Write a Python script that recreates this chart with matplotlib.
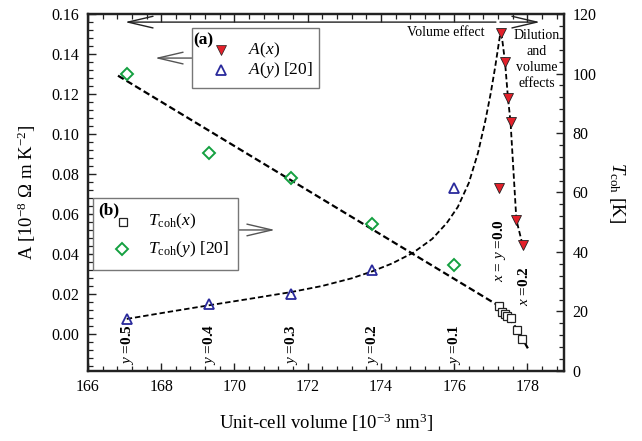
import matplotlib
matplotlib.use("Agg")
import matplotlib.pyplot as plt
from matplotlib.patches import Rectangle
from matplotlib.ticker import AutoMinorLocator, MultipleLocator, FormatStrFormatter
from matplotlib.transforms import blended_transform_factory

plt.rcParams["font.family"] = ["Liberation Serif", "DejaVu Serif"]
plt.rcParams["mathtext.fontset"] = "custom"
plt.rcParams["mathtext.rm"] = "Liberation Serif"
plt.rcParams["mathtext.it"] = "Liberation Serif:italic"
plt.rcParams["mathtext.bf"] = "Liberation Serif:bold"

# y-series (ref. [20])
vol_y = [167.06, 169.30, 171.54, 173.75, 175.99]
a_y = [0.0075, 0.015, 0.020, 0.032, 0.073]
tcoh_y = [100.0, 73.3, 64.9, 49.4, 35.6]
y_labels = ["0.5", "0.4", "0.3", "0.2", "0.1"]

# x-series, A(x)
vol_ax = [177.22, 177.29, 177.39, 177.47, 177.54, 177.70, 177.87]
a_x = [0.0728, 0.1507, 0.136, 0.118, 0.106, 0.057, 0.0445]

# x-series, Tcoh(x)
vol_tx = [177.23, 177.30, 177.38, 177.45, 177.55, 177.72, 177.86]
tcoh_x = [21.7, 19.9, 19.3, 18.5, 17.7, 13.8, 10.7]

# guide-to-the-eye curves
guide_a_vol = [167.06, 168.2, 169.3, 170.4, 171.54, 172.4, 173.2, 173.75, 174.3,
               174.87, 175.4, 175.8, 176.1, 176.4, 176.65, 176.85, 177.0, 177.12,
               177.22, 177.28]
guide_a_val = [0.0075, 0.0110, 0.0143, 0.0175, 0.0209, 0.0240, 0.0278, 0.0312, 0.0352,
               0.0405, 0.0475, 0.0555, 0.0635, 0.0755, 0.0905, 0.1065, 0.1205, 0.1335,
               0.1455, 0.1525]
guide_t_vol = [166.82, 177.23, 177.45, 177.72, 178.04]
guide_t_val = [99.3, 21.8, 18.6, 14.0, 7.0]

red = "#e3202a"
blue = "#2a2a9c"
green = "#14a040"

fig = plt.figure(figsize=(6.42, 4.41), dpi=100)
ax = fig.add_axes([0.137, 0.159, 0.7415, 0.809])
ax2 = ax.twinx()

# A curves (left axis)
ax.plot(guide_a_vol, guide_a_val, ls=(0, (3, 1.6)), color="black", lw=1.3, zorder=2)
ax.plot(vol_ax[1:], a_x[1:], ls=(0, (3, 1.6)), color="black", lw=1.3, zorder=2)
ax.plot(vol_y, a_y, ls="none", marker="^", ms=7.5, mfc="none", mec=blue, mew=1.3, zorder=3)
ax.plot(vol_ax, a_x, ls="none", marker="v", ms=7.5, mfc=red, mec="#222222", mew=0.6, zorder=3)

# Tcoh curves (right axis)
ax2.plot(guide_t_vol, guide_t_val, ls=(0, (3, 1.5)), color="black", lw=1.6, zorder=2)
ax2.plot(vol_y, tcoh_y, ls="none", marker="D", ms=6.2, mfc="none", mec=green, mew=1.4, zorder=3)
ax2.plot(vol_tx, tcoh_x, ls="none", marker="s", ms=5.8, mfc="white", mec="#222222", mew=0.9, zorder=3)

ax.set_xlim(166, 179)
ax.set_ylim(-0.0185, 0.16)
ax2.set_ylim(0, 120)

ax.xaxis.set_major_locator(MultipleLocator(2))
ax.xaxis.set_minor_locator(AutoMinorLocator(5))
ax.yaxis.set_major_locator(MultipleLocator(0.02))
ax.yaxis.set_minor_locator(AutoMinorLocator(5))
ax2.yaxis.set_major_locator(MultipleLocator(20))
ax2.yaxis.set_minor_locator(AutoMinorLocator(5))
ax.yaxis.set_major_formatter(FormatStrFormatter("%.2f"))

for a in (ax, ax2):
    a.tick_params(which="both", direction="in", labelsize=11.5, color="#222222")
    a.tick_params(which="major", length=6, width=1.0)
    a.tick_params(which="minor", length=3.5, width=0.9)
    for s in a.spines.values():
        s.set_linewidth(1.6)
        s.set_color("#222222")
ax.tick_params(which="both", top=True, right=False, pad=6)
ax2.tick_params(which="both", left=False, right=True, pad=6)

ax.set_xlabel(r"Unit-cell volume [10$^{-3}$ nm$^{3}$]", fontsize=13.5, labelpad=12)
ax.set_ylabel(r"A [10$^{-8}$ $\Omega$ m K$^{-2}$]", fontsize=13.5, labelpad=10)
ax2.set_ylabel(r"$T_{\mathrm{coh}}$ [K]", fontsize=13.5, rotation=270, labelpad=22)

# vertical composition labels
trans = blended_transform_factory(ax.transData, ax.transAxes)
for v, lab in zip(vol_y, y_labels):
    ax.text(v + 0.03, 0.017, r"$y$ =" + lab, rotation=90, ha="center", va="bottom",
            fontsize=11, fontweight="bold", transform=trans)
ax.text(177.25, 0.249, r"$x$ = $y$ =0.0", rotation=90, ha="center", va="bottom",
        fontsize=11, fontweight="bold", transform=trans)
ax.text(177.90, 0.182, r"$x$ =0.2", rotation=90, ha="center", va="bottom",
        fontsize=11, fontweight="bold", transform=trans)

# effect arrows along the top
arrow_kw = dict(arrowstyle="->,head_length=1.8,head_width=0.42", color="#222222",
                lw=1.0, shrinkA=0, shrinkB=0)
ax.annotate("", xy=(0.0777, 0.9776), xytext=(0.857, 0.9776), xycoords="axes fraction",
            arrowprops=arrow_kw)
ax.annotate("", xy=(0.9496, 0.9776), xytext=(0.8655, 0.9776), xycoords="axes fraction",
            arrowprops=arrow_kw)
ax.text(0.834, 0.9476, "Volume effect", transform=ax.transAxes, ha="right", va="center",
        fontsize=10)
ax.text(0.9426, 0.873, "Dilution\nand\nvolume\neffects", transform=ax.transAxes,
        ha="center", va="center", fontsize=10, linespacing=1.3)

# legend (a)
ax.add_patch(Rectangle((0.2179, 0.7919), 0.268, 0.168, transform=ax.transAxes,
                       fill=True, fc="white", ec="#777777", lw=1.0, zorder=4))
ax.annotate("", xy=(0.1408, 0.8768), xytext=(0.2179, 0.8768), xycoords="axes fraction",
            arrowprops=dict(arrow_kw, color="#555555"))
ax.text(0.2212, 0.9272, "(a)", transform=ax.transAxes, ha="left", va="center",
        fontsize=12.5, fontweight="bold", zorder=5)
ax.plot([0.2788], [0.9008], transform=ax.transAxes, marker="v", ms=6.5, mfc=red,
        mec="#222222", mew=0.5, ls="none", zorder=5, clip_on=False)
ax.plot([0.2788], [0.8431], transform=ax.transAxes, marker="^", ms=7, mfc="none",
        mec=blue, mew=1.3, ls="none", zorder=5, clip_on=False)
ax.text(0.3361, 0.8992, r"$A$($x$)", transform=ax.transAxes, ha="left", va="center",
        fontsize=12.5, zorder=5)
ax.text(0.3361, 0.8431, r"$A$($y$) [20]", transform=ax.transAxes, ha="left", va="center",
        fontsize=12.5, zorder=5)

# legend (b)
ax.add_patch(Rectangle((0.0111, 0.2829), 0.3047, 0.2009, transform=ax.transAxes,
                       fill=True, fc="white", ec="#777777", lw=1.0, zorder=4))
ax.annotate("", xy=(0.3929, 0.395), xytext=(0.3158, 0.395), xycoords="axes fraction",
            arrowprops=dict(arrow_kw, color="#555555"))
ax.text(0.0216, 0.451, "(b)", transform=ax.transAxes, ha="left", va="center",
        fontsize=12.5, fontweight="bold", zorder=5)
ax.plot([0.0729], [0.4165], transform=ax.transAxes, marker="s", ms=5.5, mfc="white",
        mec="#222222", mew=0.9, ls="none", zorder=5, clip_on=False)
ax.plot([0.0721], [0.3409], transform=ax.transAxes, marker="D", ms=6, mfc="none",
        mec=green, mew=1.4, ls="none", zorder=5, clip_on=False)
ax.text(0.1267, 0.4182, r"$T_{\mathrm{coh}}$($x$)", transform=ax.transAxes, ha="left",
        va="center", fontsize=12.5, zorder=5)
ax.text(0.1267, 0.3417, r"$T_{\mathrm{coh}}$($y$) [20]", transform=ax.transAxes, ha="left",
        va="center", fontsize=12.5, zorder=5)

fig.savefig("out.png", dpi=100)
